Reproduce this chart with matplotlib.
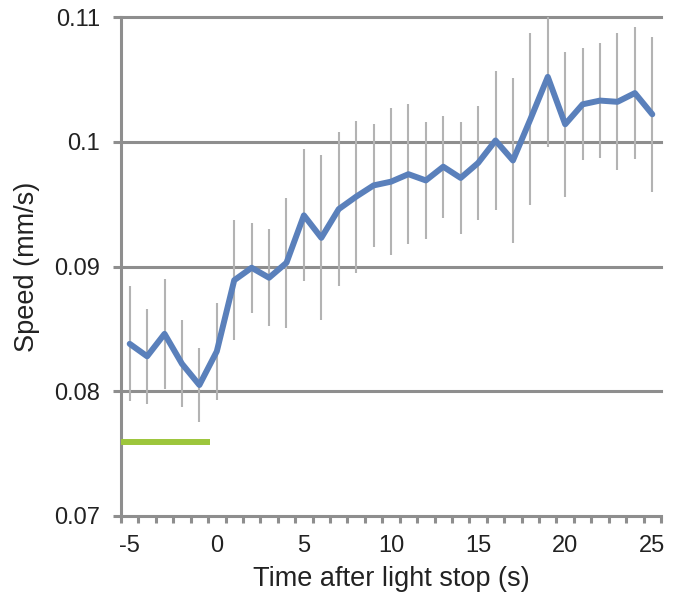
import numpy as np
import matplotlib
matplotlib.use("Agg")
import matplotlib.pyplot as plt
from matplotlib.ticker import FixedLocator

plt.rcParams['font.family'] = ['Liberation Sans', 'DejaVu Sans']
plt.rcParams['axes.unicode_minus'] = False

# time after light stop (s)
time = np.arange(-5, 26)
# mean speed (mm/s)
speed = [0.0838, 0.0828, 0.0846, 0.0822, 0.0805, 0.0832, 0.0889, 0.0899,
         0.0891, 0.0903, 0.0941, 0.0923, 0.0946, 0.0956, 0.0965, 0.0968,
         0.0974, 0.0969, 0.0980, 0.0971, 0.0983, 0.1001, 0.0985, 0.1018,
         0.1052, 0.1014, 0.1030, 0.1033, 0.1032, 0.1039, 0.1022]
# error (symmetric)
err = [0.0046, 0.0038, 0.0044, 0.0035, 0.0030, 0.0039, 0.0048, 0.0036,
       0.0039, 0.0052, 0.0053, 0.0066, 0.0062, 0.0061, 0.0049, 0.0059,
       0.0056, 0.0047, 0.0041, 0.0045, 0.0046, 0.0056, 0.0066, 0.0069,
       0.0056, 0.0058, 0.0045, 0.0046, 0.0055, 0.0053, 0.0062]
# light-on period marker
light_x = [-5.5, -0.4]
light_y = [0.0759, 0.0759]

grey = '#8e8e8e'
txt = '#222222'

fig = plt.figure(figsize=(6.78, 6.02), dpi=100)
ax = fig.add_axes([121/678, 1-516/602, 540/678, 499/602])

ax.errorbar(time, speed, yerr=err, fmt='none', ecolor='#b3b3b3',
            elinewidth=1.5, capsize=0, zorder=2)
ax.plot(time, speed, color='#5a80bb', lw=4.3, solid_joinstyle='round',
        solid_capstyle='round', zorder=3)
ax.plot(light_x, light_y, color='#9dc63c', lw=4.3, solid_capstyle='butt',
        zorder=3)

ax.set_xlim(-5.5, 25.5)
ax.set_ylim(0.07, 0.11)

for yv in [0.08, 0.09, 0.10, 0.11]:
    ax.axhline(yv, color=grey, lw=2.2, zorder=1, clip_on=False)

for s in ['top', 'right']:
    ax.spines[s].set_visible(False)
for s in ['left', 'bottom']:
    ax.spines[s].set_color(grey)
    ax.spines[s].set_linewidth(2.2)

ax.set_yticks([0.07, 0.08, 0.09, 0.10, 0.11])
ax.set_yticklabels(['0.07', '0.08', '0.09', '0.1', '0.11'])
ax.tick_params(axis='y', which='major', length=6, width=2.2, color=grey,
               pad=9, labelsize=17, labelcolor=txt)

ax.xaxis.set_major_locator(FixedLocator([-5, 0, 5, 10, 15, 20, 25]))
ax.xaxis.set_minor_locator(FixedLocator(np.arange(-5.5, 26, 1.0)))
ax.tick_params(axis='x', which='major', length=0, pad=14, labelsize=17,
               labelcolor=txt)
ax.tick_params(axis='x', which='minor', length=5, width=2.2, color=grey)

ax.set_xlabel('Time after light stop (s)', fontsize=19.5, color=txt,
              labelpad=6)
ax.set_ylabel('Speed (mm/s)', fontsize=19.5, color=txt, labelpad=10)

plt.savefig('out.png', dpi=100)
